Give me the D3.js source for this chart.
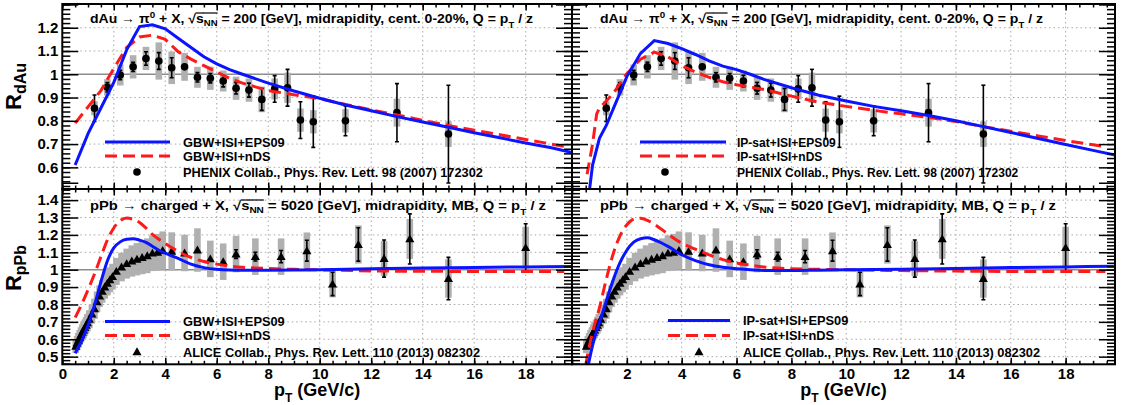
<!DOCTYPE html>
<html>
<head>
<meta charset="utf-8">
<script src="https://cdn.jsdelivr.net/npm/d3@7"></script>
<style>
  body { margin: 0; background: #fff; }
  svg { display: block; font-family: "Liberation Sans", Arial, Helvetica, sans-serif; font-weight: bold; }
  text { white-space: pre; }
</style>
</head>
<body>
<div id="chart"></div>
<script>
'use strict';

// ---- PHENIX pi0 R_dAu, 0-20% ----
const pTdAu   = [1.25,1.75,2.25,2.75,3.25,3.75,4.25,4.75,5.25,5.75,6.25,6.75,7.25,7.75,8.25,8.75,9.25,9.75,11,13,15];
const RdAu    = [0.854,0.944,0.997,1.032,1.068,1.057,1.028,1.032,0.987,0.983,0.971,0.940,0.932,0.892,0.937,0.942,0.803,0.796,0.800,0.835,0.743];
const statDAu = [0.057,0.02,0.02,0.02,0.029,0.036,0.043,0.015,0.02,0.02,0.025,0.025,0.03,0.047,0.057,0.079,0.079,0.11,0.064,0.125,0.21];
const sysDAu  = [0.03,0.035,0.045,0.05,0.05,0.08,0.07,0.06,0.045,0.05,0.045,0.05,0.05,0.055,0.045,0.065,0.05,0.05,0.05,0.06,0.055];

// ---- ALICE charged R_pPb, MB ----
const pTpPb   = [0.525,0.575,0.625,0.675,0.725,0.775,0.825,0.875,0.925,0.975,1.05,1.15,1.25,1.35,1.45,1.55,1.65,1.75,1.85,1.95,
                 2.1,2.3,2.5,2.7,2.9,3.1,3.3,3.5,3.7,3.9,4.25,4.75,5.25,5.75,6.25,6.75,7.5,8.5,9.5,10.5,11.5,12.5,13.5,15,18];
const RpPb    = [0.56,0.578,0.594,0.61,0.625,0.64,0.653,0.667,0.68,0.695,0.715,0.745,0.775,0.815,0.848,0.875,0.9,0.922,0.942,0.96,
                 0.99,1.015,1.035,1.05,1.06,1.07,1.08,1.095,1.1,1.11,1.105,1.096,1.113,1.062,1.046,1.09,1.075,1.075,1.109,0.918,1.145,1.064,1.177,0.949,1.127];
const statPPb = [0.005,0.005,0.005,0.005,0.005,0.005,0.005,0.005,0.005,0.005,0.005,0.005,0.005,0.005,0.005,0.005,0.005,0.005,0.005,0.005,
                 0.005,0.005,0.005,0.005,0.005,0.005,0.005,0.005,0.005,0.006,0.01,0.01,0.012,0.02,0.02,0.025,0.025,0.035,0.06,0.067,0.096,0.107,0.144,0.122,0.137];
const sysPPb  = [0.04,0.04,0.042,0.043,0.044,0.045,0.046,0.047,0.048,0.05,0.052,0.055,0.058,0.06,0.062,0.065,0.067,0.07,0.072,0.074,
                 0.078,0.082,0.086,0.09,0.093,0.096,0.1,0.103,0.106,0.11,0.11,0.105,0.125,0.105,0.105,0.105,0.105,0.105,0.105,0.077,0.11,0.10,0.115,0.11,0.12];

// ---- theory curves [pT, R] ----
const gbwEpsDAu = [[0.5,0.61],[1.0,0.745],[1.5,0.855],[2.0,0.965],[2.5,1.105],[3.0,1.205],[3.5,1.213],[4.0,1.195],[4.5,1.155],[5.0,1.115],
  [5.5,1.075],[6.0,1.045],[6.5,1.02],[7.0,1.0],[8.0,0.962],[9.0,0.928],[10.0,0.897],[11.0,0.868],[12.0,0.843],[13.0,0.818],[14.0,0.795],
  [15.0,0.772],[16.0,0.749],[17.0,0.727],[18.0,0.705],[19.0,0.684],[19.8,0.664]];
const gbwNdsDAu = [[0.5,0.79],[1.0,0.86],[1.5,0.93],[2.0,1.025],[2.5,1.115],[3.0,1.16],[3.5,1.168],[4.0,1.15],[4.5,1.097],[5.0,1.065],
  [5.5,1.037],[6.0,1.01],[6.5,0.982],[7.0,0.962],[8.0,0.93],[9.0,0.912],[10.0,0.895],[11.0,0.87],[12.0,0.847],[13.0,0.825],[14.0,0.802],
  [15.0,0.78],[16.0,0.76],[17.0,0.74],[18.0,0.72],[19.0,0.70],[19.5,0.69]];
const ipEpsDAu = [[0.55,0.42],[0.75,0.61],[1.0,0.725],[1.25,0.78],[1.5,0.85],[2.0,0.99],[2.5,1.09],[3.0,1.145],[3.5,1.132],[4.0,1.11],
  [4.5,1.085],[5.0,1.058],[5.5,1.035],[6.0,1.02],[6.5,1.0],[7.0,0.978],[8.0,0.942],[9.0,0.91],[10.0,0.885],[11.0,0.862],[12.0,0.843],
  [13.0,0.823],[14.0,0.8],[15.0,0.775],[16.0,0.75],[17.0,0.724],[18.0,0.698],[19.0,0.673],[19.8,0.653]];
const ipNdsDAu = [[0.55,0.57],[0.75,0.70],[0.9,0.83],[1.0,0.855],[1.25,0.885],[1.5,0.917],[2.0,1.003],[2.5,1.065],[3.0,1.095],[3.5,1.075],
  [4.0,1.037],[4.5,1.01],[5.0,0.987],[5.5,0.968],[6.0,0.955],[6.5,0.945],[7.0,0.935],[8.0,0.906],[9.0,0.88],[10.0,0.862],[11.0,0.845],
  [12.0,0.83],[13.0,0.815],[14.0,0.797],[15.0,0.775],[16.0,0.755],[17.0,0.735],[18.0,0.715],[19.0,0.697],[19.5,0.688]];
const gbwEpsPPb = [[0.5,0.52],[0.75,0.59],[1.0,0.68],[1.25,0.795],[1.5,0.93],[1.75,1.05],[2.0,1.125],[2.25,1.16],[2.5,1.175],[2.75,1.178],
  [3.0,1.17],[3.25,1.157],[3.5,1.135],[3.75,1.112],[4.0,1.095],[4.5,1.065],[5.0,1.032],[5.5,1.012],[6.0,1.002],[6.5,0.998],[7.0,0.997],
  [8.0,0.997],[9.0,0.998],[10.0,1.0],[12.0,1.006],[14.0,1.01],[16.0,1.013],[18.0,1.016],[19.8,1.018]];
const gbwNdsPPb = [[0.5,0.725],[0.75,0.80],[1.0,0.885],[1.25,0.975],[1.5,1.075],[1.75,1.17],[2.0,1.24],[2.25,1.282],[2.5,1.297],[2.75,1.29],
  [3.0,1.272],[3.25,1.24],[3.5,1.203],[3.75,1.175],[4.0,1.15],[4.5,1.105],[5.0,1.07],[5.5,1.047],[6.0,1.032],[6.5,1.021],[7.0,1.014],
  [8.0,1.007],[9.0,1.002],[10.0,0.999],[12.0,0.993],[14.0,0.991],[16.0,0.99],[18.0,0.99],[19.5,0.99]];
const ipEpsPPb = [[0.55,0.40],[0.6,0.455],[0.7,0.53],[0.8,0.595],[1.0,0.695],[1.25,0.82],[1.5,0.94],[1.75,1.04],[2.0,1.112],[2.25,1.158],
  [2.5,1.178],[2.75,1.183],[3.0,1.172],[3.25,1.155],[3.5,1.134],[4.0,1.086],[4.5,1.052],[5.0,1.028],[5.5,1.014],[6.0,1.005],[6.5,1.0],
  [7.0,0.996],[8.0,0.995],[9.0,0.997],[10.0,0.999],[12.0,1.003],[14.0,1.007],[16.0,1.012],[18.0,1.016],[19.8,1.02]];
const ipNdsPPb = [[0.5,0.45],[0.55,0.495],[0.75,0.64],[1.0,0.78],[1.25,0.945],[1.5,1.09],[1.75,1.195],[2.0,1.258],[2.25,1.29],[2.5,1.296],
  [2.75,1.284],[3.0,1.262],[3.5,1.205],[4.0,1.153],[4.5,1.118],[5.0,1.085],[5.5,1.058],[6.0,1.039],[6.5,1.026],[7.0,1.015],[8.0,1.006],
  [9.0,1.002],[10.0,0.999],[12.0,0.995],[14.0,0.992],[16.0,0.99],[18.0,0.99],[19.45,0.99]];

// ---- ticks & labels ----
const xMajor = [0,2,4,6,8,10,12,14,16,18];
const yLabelsDAu = [0.6,0.7,0.8,0.9,1,1.1,1.2];
const yLabelsPPb = [0.5,0.6,0.7,0.8,0.9,1,1.1,1.2,1.3,1.4];
const phenixRef = "PHENIX Collab., Phys. Rev. Lett. 98 (2007) 172302";
const aliceRef  = "ALICE Collab., Phys. Rev. Lett. 110 (2013) 082302";

const W = 1127, H = 405;
const cols = [[62.3, 572], [572, 1115]];
const rows = [[4, 189], [189, 364.3]];
const yDomains = [[0.507, 1.302], [0.456, 1.464]];
const xDomain = [0, 19.8];

const svg = d3.select("#chart").append("svg")
  .attr("width", W).attr("height", H);

// draws a run of text pieces (sub/superscripts, sqrt bar) one after another,
// then stretches the run to the wanted width (ROOT's Helvetica is wider)
function rich(g, x, y, parts, size, width) {
  const run = g.append("g");
  let cx = x;
  parts.forEach(p => {
    const fs = size * (p.k || 1);
    const t = run.append("text")
      .attr("x", cx).attr("y", y + (p.dy || 0) * size)
      .attr("font-size", fs).text(p.t);
    const w = t.node().getComputedTextLength();
    if (p.over) {
      run.append("line").attr("x1", cx - 0.5).attr("x2", cx + w)
        .attr("y1", y - 0.8 * size).attr("y2", y - 0.8 * size)
        .attr("stroke", "#000").attr("stroke-width", 1.2);
    }
    cx += w;
  });
  const sx = width / (cx - x);
  run.attr("transform", `translate(${x},0) scale(${sx},1) translate(${-x},0)`);
}

function range(a, b, step) {
  const n = Math.round((b - a) / step);
  return d3.range(n + 1).map(i => +(a + i * step).toFixed(4));
}

const panels = [
  { r: 0, c: 0, pT: pTdAu, R: RdAu, st: statDAu, sy: sysDAu, solid: gbwEpsDAu, dash: gbwNdsDAu, mark: "circle",
    names: ["GBW+ISI+EPS09", "GBW+ISI+nDS", phenixRef], leg: { x0: 105, x1: 170, y: 142, mx: 137, tx: 183, fs: 12.8, gap: [14, 30] } },
  { r: 0, c: 1, pT: pTdAu, R: RdAu, st: statDAu, sy: sysDAu, solid: ipEpsDAu, dash: ipNdsDAu, mark: "circle",
    names: ["IP-sat+ISI+EPS09", "IP-sat+ISI+nDS", phenixRef], leg: { x0: 640, x1: 726, y: 142, mx: 665, tx: 737, fs: 12, gap: [14, 30] } },
  { r: 1, c: 0, pT: pTpPb, R: RpPb, st: statPPb, sy: sysPPb, solid: gbwEpsPPb, dash: gbwNdsPPb, mark: "triangle",
    names: ["GBW+ISI+EPS09", "GBW+ISI+nDS", aliceRef], leg: { x0: 105, x1: 170, y: 321.5, mx: 137, tx: 183, fs: 12.8, gap: [14, 31] } },
  { r: 1, c: 1, pT: pTpPb, R: RpPb, st: statPPb, sy: sysPPb, solid: ipEpsPPb, dash: ipNdsPPb, mark: "triangle",
    names: ["IP-sat+ISI+EPS09", "IP-sat+ISI+nDS", aliceRef], leg: { x0: 668, x1: 730, y: 320.5, mx: 699, tx: 743, fs: 12.8, gap: [15, 32] } }
];

const titleDAu = [
  { t: "dAu " }, { t: "\u2192" }, { t: " \u03c0" }, { t: "0", k: 0.7, dy: -0.42 }, { t: " + X, " },
  { t: "\u221a" }, { t: "s", over: true }, { t: "NN", k: 0.68, dy: 0.28, over: true },
  { t: " = 200 [GeV], midrapidity, cent. 0-20%, Q = p" }, { t: "T", k: 0.68, dy: 0.4 }, { t: " / z" }
];
const titlePPb = [
  { t: "pPb " }, { t: "\u2192" }, { t: " charged + X, " },
  { t: "\u221a" }, { t: "s", over: true }, { t: "NN", k: 0.68, dy: 0.28, over: true },
  { t: " = 5020 [GeV], midrapidity, MB, Q = p" }, { t: "T", k: 0.68, dy: 0.4 }, { t: " / z" }
];

const sym = {
  circle: d3.symbol().type(d3.symbolCircle).size(46),
  triangle: d3.symbol().type(d3.symbolTriangle).size(36)
};

panels.forEach((p, i) => {
  const x = d3.scaleLinear().domain(xDomain).range(cols[p.c]);
  const y = d3.scaleLinear().domain(yDomains[p.r]).range([rows[p.r][1], rows[p.r][0]]);
  const g = svg.append("g");
  const [X0, X1] = cols[p.c], [Y0, Y1] = rows[p.r];
  const yLab = p.r === 0 ? yLabelsDAu : yLabelsPPb;

  g.append("clipPath").attr("id", "clip" + i)
    .append("rect").attr("x", X0).attr("y", Y0).attr("width", X1 - X0).attr("height", Y1 - Y0);

  // dotted grid
  g.selectAll(".gx").data(xMajor.filter(v => v > 0)).join("line")
    .attr("x1", d => x(d)).attr("x2", d => x(d)).attr("y1", Y0).attr("y2", Y1)
    .attr("stroke", "#a8a8a8").attr("stroke-width", 1).attr("stroke-dasharray", "1.5,3");
  g.selectAll(".gy").data(yLab.filter(v => v !== 1)).join("line")
    .attr("x1", X0).attr("x2", X1).attr("y1", d => y(d)).attr("y2", d => y(d))
    .attr("stroke", "#a8a8a8").attr("stroke-width", 1).attr("stroke-dasharray", "1.5,3");
  g.append("line").attr("x1", X0).attr("x2", X1).attr("y1", y(1)).attr("y2", y(1))
    .attr("stroke", "#8c8c8c").attr("stroke-width", 1.5);

  const plot = g.append("g").attr("clip-path", `url(#clip${i})`);
  const idx = d3.range(p.pT.length);

  // systematic boxes
  plot.selectAll(".sys").data(idx).join("rect")
    .attr("x", d => x(p.pT[d]) - 3.3).attr("width", 6.6)
    .attr("y", d => y(p.R[d] + p.sy[d]))
    .attr("height", d => y(p.R[d] - p.sy[d]) - y(p.R[d] + p.sy[d]))
    .attr("fill", "#b0b0b0");

  // statistical bars
  const bars = plot.append("g").attr("stroke", "#000").attr("stroke-width", 1.6);
  idx.forEach(d => {
    const cx = x(p.pT[d]), ya = y(p.R[d] + p.st[d]), yb = y(p.R[d] - p.st[d]);
    if (yb - ya < 8) return;
    bars.append("line").attr("x1", cx).attr("x2", cx).attr("y1", ya).attr("y2", yb);
    bars.append("line").attr("x1", cx - 2).attr("x2", cx + 2).attr("y1", ya).attr("y2", ya);
    bars.append("line").attr("x1", cx - 2).attr("x2", cx + 2).attr("y1", yb).attr("y2", yb);
  });

  // markers
  plot.selectAll(".m").data(idx).join("path")
    .attr("d", sym[p.mark])
    .attr("transform", d => `translate(${x(p.pT[d])},${y(p.R[d]) + (p.mark === "triangle" ? 0.8 : 0)})`)
    .attr("fill", "#000");

  // theory curves
  const line = d3.line().x(d => x(d[0])).y(d => y(d[1]))
    .curve(p.r === 0 ? d3.curveLinear : d3.curveMonotoneX);
  plot.append("path").datum(p.dash).attr("d", line).attr("fill", "none")
    .attr("stroke", "#ff1a1a").attr("stroke-width", 3).attr("stroke-dasharray", "12,6");
  plot.append("path").datum(p.solid).attr("d", line).attr("fill", "none")
    .attr("stroke", "#0a14ff").attr("stroke-width", 3);

  // axes, ROOT style ticks inside the frame
  const yMinor = range(Math.ceil(yDomains[p.r][0] * 50) / 50, yDomains[p.r][1], 0.02);
  const yMajorT = range(Math.ceil(yDomains[p.r][0] * 10) / 10, yDomains[p.r][1], 0.1);
  const xMinor = range(0, 19.5, 0.5);
  const fmt = d => String(+d.toFixed(1));

  const axes = [
    d3.axisLeft(y).tickValues(yMinor).tickSize(-8).tickFormat(""),
    d3.axisLeft(y).tickValues(yMajorT).tickSize(-16).tickPadding(4)
      .tickFormat(d => (p.c === 0 && yLab.includes(+d.toFixed(1))) ? fmt(d) : "")
  ];
  axes.forEach(a => g.append("g").attr("transform", `translate(${X0},0)`).call(a));
  g.append("g").attr("transform", `translate(${X1},0)`).call(d3.axisRight(y).tickValues(yMinor).tickSize(-8).tickFormat(""));
  g.append("g").attr("transform", `translate(${X1},0)`).call(d3.axisRight(y).tickValues(yMajorT).tickSize(-16).tickFormat(""));

  const xLabs = p.c === 0 ? xMajor : xMajor.filter(v => v > 0);
  g.append("g").attr("transform", `translate(0,${Y0})`).call(d3.axisTop(x).tickValues(xMinor).tickSize(-3.5).tickFormat(""));
  g.append("g").attr("transform", `translate(0,${Y0})`).call(d3.axisTop(x).tickValues(xMajor).tickSize(-6.5).tickFormat(""));
  g.append("g").attr("transform", `translate(0,${Y1})`).call(d3.axisBottom(x).tickValues(xMinor).tickSize(-3.5).tickFormat(""));
  g.append("g").attr("transform", `translate(0,${Y1})`).call(d3.axisBottom(x).tickValues(xMajor).tickSize(-6.5).tickPadding(4)
    .tickFormat(d => (p.r === 1 && xLabs.includes(d)) ? d : ""));

  g.selectAll(".domain").remove();
  g.selectAll(".tick line").attr("stroke", "#000").attr("stroke-width", 1.5);
  g.selectAll(".tick text").attr("fill", "#000").attr("font-size", 15);
  g.selectAll("g").attr("font-family", null);

  // frame
  g.append("rect").attr("x", X0).attr("y", Y0).attr("width", X1 - X0).attr("height", Y1 - Y0)
    .attr("fill", "none").attr("stroke", "#000").attr("stroke-width", 2);

  // panel title
  const tx0 = p.c === 0 ? 90 : 600;
  rich(g, tx0, p.r === 0 ? 23 : 210, p.r === 0 ? titleDAu : titlePPb, 12.5, p.r === 0 ? 443 : 456);

  // legend
  const L = p.leg;
  g.append("line").attr("x1", L.x0).attr("x2", L.x1).attr("y1", L.y).attr("y2", L.y)
    .attr("stroke", "#0a14ff").attr("stroke-width", 3);
  g.append("line").attr("x1", L.x0).attr("x2", L.x1).attr("y1", L.y + L.gap[0]).attr("y2", L.y + L.gap[0])
    .attr("stroke", "#ff1a1a").attr("stroke-width", 3).attr("stroke-dasharray", "12,6");
  g.append("path").attr("d", sym[p.mark]).attr("transform", `translate(${L.mx},${L.y + L.gap[1]})`).attr("fill", "#000");
  [0, L.gap[0], L.gap[1]].forEach((dy, k) => {
    g.append("text").attr("x", L.tx).attr("y", L.y + dy + 4.5).attr("font-size", L.fs).text(p.names[k]);
  });
});

// axis titles
[[63, "dAu"], [245, "pPb"]].forEach(([yy, sub]) => {
  const t = svg.append("text").attr("transform", `translate(21,${yy}) rotate(-90)`)
    .attr("text-anchor", "end");
  t.append("tspan").attr("font-size", 22).text("R");
  t.append("tspan").attr("font-size", 16).attr("dy", 5).text(sub);
});
cols.forEach(([a, b]) => {
  const t = svg.append("text").attr("x", (a + b) / 2).attr("y", 396).attr("text-anchor", "middle").attr("font-size", 18);
  t.append("tspan").text("p");
  t.append("tspan").attr("font-size", 12).attr("dy", 6).text("T");
  t.append("tspan").attr("dy", -6).text(" (GeV/c)");
});
</script>
</body>
</html>
